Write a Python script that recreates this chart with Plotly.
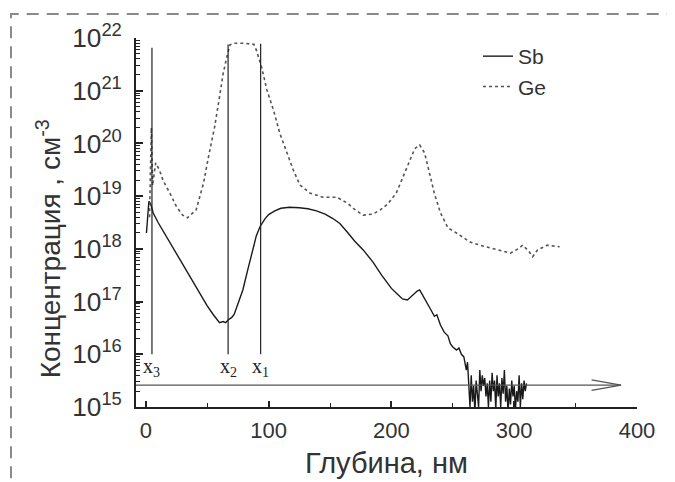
import plotly.graph_objects as go

# ---------------- data ----------------
# Sb profile: depth (nm) and log10 of concentration (cm^-3)
sb_depth = [0.5, 1.5, 2.5, 4, 6, 10, 15, 20, 25, 30, 35, 40, 45, 50, 55, 58, 60, 63, 65, 67,
            70, 72, 75, 79, 83, 87, 90, 93, 97, 100, 105, 110, 117, 125, 132, 139, 146, 152,
            158, 164, 170, 177, 185, 192, 196, 200, 205, 209, 213, 217, 221, 223, 226, 229,
            232, 235, 237, 240, 243, 246, 248, 250, 253, 255, 257, 259, 261, 262,
            263, 264, 265, 266, 267, 268, 269, 270, 271, 272, 273, 274, 275, 276, 277, 278,
            279, 280, 281, 282, 283, 284, 285, 286, 287, 288, 289, 290, 291, 292, 293, 294,
            295, 296, 297, 298, 299, 300, 301, 302, 303, 304, 305, 306, 307, 308, 309, 310]
sb_log = [18.3, 18.6, 18.9, 18.85, 18.68, 18.5, 18.3, 18.12, 17.9, 17.7, 17.5, 17.3, 17.12,
          16.92, 16.75, 16.65, 16.6, 16.62, 16.6, 16.65, 16.7, 16.76, 16.95, 17.22, 17.6, 17.98,
          18.25, 18.42, 18.57, 18.65, 18.72, 18.77, 18.79, 18.78, 18.76, 18.72, 18.66, 18.58,
          18.48, 18.32, 18.15, 17.98, 17.75, 17.5, 17.37, 17.25, 17.14, 17.05, 17.03, 17.12,
          17.2, 17.22, 17.1, 16.99, 16.85, 16.72, 16.75, 16.55, 16.42, 16.35, 16.2, 16.14,
          16.08, 16.12, 16.0, 15.95, 15.7, 15.85,
          15.3, 15.0, 15.6, 15.1, 15.4, 14.9, 15.5, 15.2, 15.0, 15.7, 15.3, 15.6, 15.4, 15.55,
          15.2, 15.45, 15.0, 15.5, 15.1, 15.65, 15.3, 15.5, 14.95, 15.6, 15.2, 15.45, 15.0,
          15.55, 15.25, 15.7, 15.1, 15.4, 14.9, 15.35, 15.05, 15.5, 15.2, 15.4, 14.95, 15.3,
          15.1, 15.6, 15.0, 15.45, 15.15, 15.5, 15.3, 15.45]

# Ge profile: depth (nm) and log10 of concentration (cm^-3)
ge_depth = [3, 4.5, 5.5, 8, 11, 14, 19.5, 25, 30, 34, 41, 47, 51, 56, 60, 63, 66, 68.5, 72,
            80, 88, 90, 94.5, 98.5, 104, 109, 115, 120, 125.5, 133.5, 144, 155.5, 164, 170,
            177, 185, 191, 197, 204, 210, 215, 219, 223, 227, 231, 235, 240, 246, 253, 264,
            275, 286, 297, 303, 307, 312, 315, 319, 327, 337]
ge_log = [18.6, 20.3, 19.2, 19.63, 19.5, 19.3, 19.06, 18.8, 18.64, 18.59, 18.74, 19.25,
          19.74, 20.31, 20.88, 21.33, 21.64, 21.87, 21.9, 21.9, 21.88, 21.77, 21.43, 21.02,
          20.63, 20.2, 19.82, 19.5, 19.21, 19.06, 18.98, 18.98, 18.87, 18.75, 18.64, 18.66,
          18.74, 18.85, 19.06, 19.4, 19.69, 19.9, 19.97, 19.82, 19.44, 19.05, 18.68, 18.4,
          18.3, 18.13, 18.05, 17.98, 17.92, 18.0, 18.07, 17.95, 17.85, 17.98, 18.07, 18.04]

# boundary markers x3, x2, x1 (depth, nm)
marker_names = ["x<sub>3</sub>", "x<sub>2</sub>", "x<sub>1</sub>"]
marker_depth = [5, 67, 93.5]
marker_top = [6.5e21, 7.5e21, 7.8e21]
marker_bottom = 1.0e16

# horizontal X arrow
arrow_level = 2.6e15
arrow_end = 387

x_ticks = [0, 100, 200, 300, 400]

# ---------------- figure ----------------
fig = go.Figure()

sb_conc = [10 ** v for v in sb_log]
ge_conc = [10 ** v for v in ge_log]

fig.add_trace(go.Scatter(x=sb_depth, y=sb_conc, mode="lines", name="Sb",
                         line=dict(color="#1a1a1a", width=1.4)))
fig.add_trace(go.Scatter(x=ge_depth, y=ge_conc, mode="lines", name="Ge",
                         line=dict(color="#555555", width=1.6, dash="3px,3px")))

# vertical marker lines
for d, top in zip(marker_depth, marker_top):
    fig.add_trace(go.Scatter(x=[d, d], y=[marker_bottom, top], mode="lines",
                             line=dict(color="#222222", width=1.2),
                             showlegend=False, hoverinfo="skip"))

# X axis arrow (line + open chevron head)
fig.add_trace(go.Scatter(x=[-8, arrow_end], y=[arrow_level, arrow_level], mode="lines",
                         line=dict(color="#555555", width=1.3), showlegend=False,
                         hoverinfo="skip"))
fig.add_trace(go.Scatter(x=[arrow_end - 24, arrow_end, arrow_end - 24],
                         y=[arrow_level * 10 ** 0.1, arrow_level, arrow_level / 10 ** 0.1],
                         mode="lines", line=dict(color="#555555", width=1.3),
                         showlegend=False, hoverinfo="skip"))

annotations = []
for name, d in zip(marker_names, marker_depth):
    annotations.append(dict(x=d, y=15.74, xref="x", yref="y", text=name, showarrow=False,
                            font=dict(family="Liberation Serif", size=20, color="#222222")))
annotations.append(dict(x=401, y=15.72, xref="x", yref="y", text="X", showarrow=False,
                        font=dict(family="Liberation Sans", size=20, color="#333333")))
# y axis title
annotations.append(dict(x=-0.2136, y=0.43, xref="paper", yref="paper",
                        text="Концентрация , см<sup>-3</sup>", textangle=-90, showarrow=False,
                        font=dict(family="Liberation Sans", size=28, color="#333333")))

shapes = [dict(type="rect", xref="paper", yref="paper", x0=-0.2495, x1=1.0719, y0=-0.3,
               y1=1.065, line=dict(color="#8a8a8a", width=2, dash="12px,8px"),
               fillcolor="rgba(0,0,0,0)", layer="below")]

# page body adds an 8 px offset; figure is sized so the plot box lands at
# x 136..637, y 38..407 of the window
fig.update_layout(
    width=667, height=474,
    margin=dict(l=128, r=38, t=30, b=75, autoexpand=False),
    paper_bgcolor="white", plot_bgcolor="white",
    font=dict(family="Liberation Sans", color="#333333"),
    showlegend=True,
    legend=dict(x=(478 - 136) / 501, y=(407 - 36) / 369, xanchor="left", yanchor="top",
                bgcolor="rgba(0,0,0,0)", font=dict(size=21, color="#333333"),
                tracegroupgap=0, itemwidth=30),
    annotations=annotations,
    shapes=shapes,
    xaxis=dict(range=[-8, 400], tickvals=x_ticks, ticks="inside", ticklen=6,
               tickwidth=1.5, tickcolor="#222", showline=True, linecolor="#222",
               linewidth=2, showgrid=False, zeroline=False, automargin=False,
               tickfont=dict(size=22, color="#333"), ticklabelstandoff=3,
               minor=dict(ticks="inside", ticklen=4, tickwidth=1.2, tickcolor="#222",
                          dtick=50, showgrid=False),
               title=dict(text="Глубина, нм", font=dict(size=29, color="#333"), standoff=10)),
    yaxis=dict(type="log", range=[15, 22], dtick=1, exponentformat="power",
               ticks="inside", ticklen=7, tickwidth=2, tickcolor="#222",
               showline=True, linecolor="#222", linewidth=2, showgrid=False,
               zeroline=False, automargin=False, tickfont=dict(size=21, color="#333"),
               minor=dict(ticks="inside", ticklen=4, tickwidth=1.2, tickcolor="#222",
                          showgrid=False),
               ticklabelstandoff=8),
)

fig.write_html("out.html")
